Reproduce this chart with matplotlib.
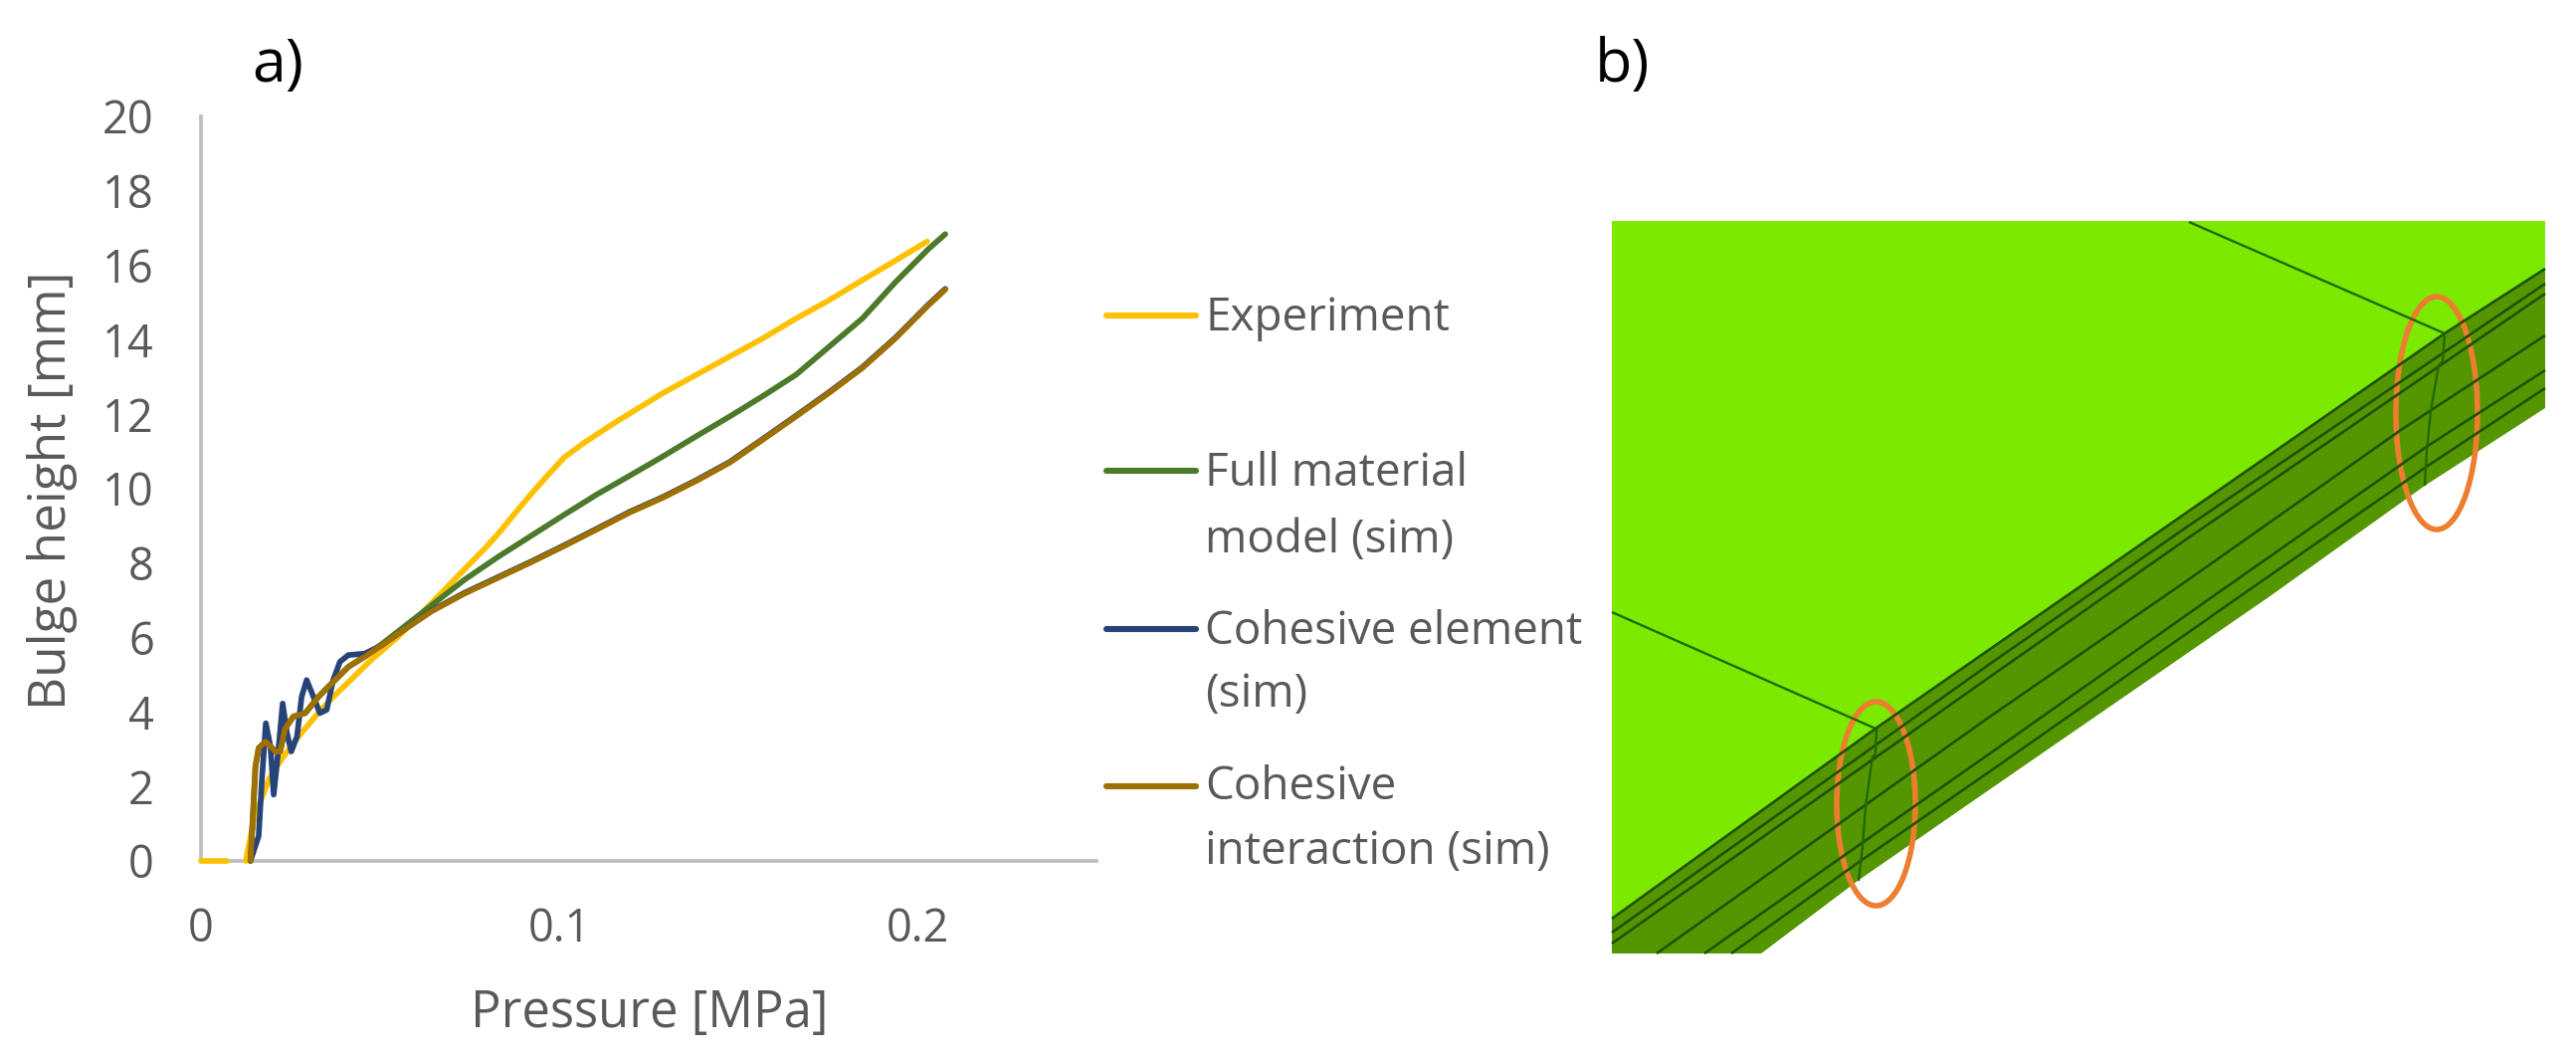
import matplotlib
matplotlib.use("Agg")
import matplotlib.pyplot as plt
from matplotlib.patches import Polygon, Ellipse

W, H = 2589, 1065
DPI = 100
plt.rcParams['font.family'] = ['Open Sans', 'DejaVu Sans']

# ---------- chart data ----------
exp_start_x = [0.0, 0.0072]
exp_start_y = [0.0, 0.0]
exp_x = [0.0125, 0.0150, 0.0190, 0.0225, 0.0272, 0.0319, 0.0364, 0.0419, 0.0475, 0.0550, 0.0642, 0.0795,
         0.0828, 0.0874, 0.0921, 0.0967, 0.1014, 0.1069, 0.1153, 0.1290, 0.1383, 0.1476, 0.1569, 0.1661,
         0.1753, 0.1846, 0.1939, 0.2027]
exp_y = [0.0, 1.2, 2.2, 2.73, 3.34, 3.88, 4.36, 4.87, 5.40, 6.02, 6.91, 8.42,
         8.77, 9.31, 9.85, 10.35, 10.84, 11.23, 11.76, 12.57, 13.06, 13.55, 14.04, 14.57,
         15.06, 15.60, 16.13, 16.64]

full_x = [0.0138, 0.0143, 0.0152, 0.0161, 0.0180, 0.0208, 0.0221, 0.0235, 0.0258, 0.0291, 0.0328, 0.0365,
          0.0411, 0.0457, 0.0504, 0.0596, 0.0735, 0.0828, 0.0921, 0.1014, 0.1106, 0.1197, 0.1290, 0.1383,
          0.1476, 0.1569, 0.1661, 0.1753, 0.1846, 0.1939, 0.2031, 0.2078]
full_y = [0.0, 0.85, 2.54, 3.03, 3.21, 2.94, 2.94, 3.56, 3.88, 3.97, 4.41, 4.77,
          5.21, 5.50, 5.82, 6.51, 7.55, 8.16, 8.73, 9.30, 9.85, 10.35, 10.87, 11.41,
          11.94, 12.49, 13.06, 13.81, 14.57, 15.55, 16.44, 16.84]

elem_x = [0.0138, 0.0161, 0.0170, 0.0181, 0.0194, 0.0203, 0.0217, 0.0228, 0.0240, 0.0252, 0.0268, 0.0281,
          0.0295, 0.0314, 0.0332, 0.0351, 0.0369, 0.0388, 0.0411, 0.0457, 0.0504, 0.0550, 0.0643, 0.0735,
          0.0828, 0.0921, 0.1014, 0.1106, 0.1197, 0.1290, 0.1383, 0.1476, 0.1569, 0.1661, 0.1753, 0.1846,
          0.1939, 0.2031, 0.2078]
elem_y = [0.0, 0.67, 2.18, 3.70, 3.07, 1.78, 3.07, 4.23, 3.43, 2.94, 3.34, 4.41,
          4.86, 4.41, 3.97, 4.06, 4.86, 5.35, 5.53, 5.57, 5.79, 6.10, 6.72, 7.20,
          7.62, 8.04, 8.48, 8.93, 9.38, 9.78, 10.23, 10.72, 11.34, 11.96, 12.59, 13.26,
          14.06, 14.95, 15.37]

inter_x = [0.0138, 0.0143, 0.0152, 0.0161, 0.0180, 0.0208, 0.0221, 0.0235, 0.0258, 0.0291, 0.0328, 0.0365,
           0.0411, 0.0457, 0.0504, 0.0550, 0.0643, 0.0735, 0.0828, 0.0921, 0.1014, 0.1106, 0.1197, 0.1290,
           0.1383, 0.1476, 0.1569, 0.1661, 0.1753, 0.1846, 0.1939, 0.2031, 0.2078]
inter_y = [0.0, 0.85, 2.54, 3.03, 3.21, 2.94, 2.94, 3.56, 3.88, 3.97, 4.41, 4.77,
           5.21, 5.48, 5.79, 6.10, 6.70, 7.18, 7.60, 8.02, 8.46, 8.91, 9.36, 9.76,
           10.21, 10.70, 11.32, 11.94, 12.57, 13.24, 14.04, 14.93, 15.35]

x_ticks = [0, 0.1, 0.2]
x_tick_labels = ['0', '0.1', '0.2']
y_ticks = [0, 2, 4, 6, 8, 10, 12, 14, 16, 18, 20]

c_exp, c_full, c_elem, c_inter = '#FFC000', '#4C7A2A', '#264478', '#9E7000'
TXT = '#595959'

legend_keys = [(317, c_exp), (473, c_full), (632, c_elem), (790, c_inter)]
legend_lines = [('Experiment', 332), ('Full material', 488), ('model (sim)', 555),
                ('Cohesive element', 647), ('(sim)', 710), ('Cohesive', 803), ('interaction (sim)', 868)]

# ---------- panel b geometry (image pixels) ----------
top_poly = [(1620, 222), (2558, 222), (2558, 270), (2457, 335), (1885, 732), (1620, 923)]
side_poly = [(1620, 923), (1885, 732), (2457, 335), (2558, 270), (2558, 410), (2437, 488), (2280, 600),
             (2000, 793), (1867, 885), (1770, 958), (1620, 958)]
side_lines = [
    [(1620, 923), (1885, 732), (2457, 335), (2558, 270)],
    [(1620, 937), (2000, 667), (2200, 528), (2558, 285)],
    [(1620, 948), (2000, 680), (2200, 540), (2558, 295)],
    [(1665, 958), (1852, 825), (2000, 720), (2200, 582), (2413, 432), (2558, 337)],
    [(1713, 958), (1867, 850), (2000, 757), (2223, 600), (2440, 448), (2558, 372)],
    [(1740, 958), (1867, 867), (2000, 775), (2250, 600), (2440, 468), (2558, 390)],
]
thin_lines = [
    [(1620, 615), (1885, 732)],
    [(2200, 223), (2457, 335)],
    [(1886, 732), (1885, 758), (1882, 760), (1875, 810), (1872, 850), (1868, 885)],
    [(2457, 337), (2455, 363), (2451, 367), (2443, 413), (2439, 453), (2437, 488)],
]
ellipses = [(1885.5, 807.5, 79, 205), (2449, 415, 82, 234)]

# ---------- figure ----------
fig = plt.figure(figsize=(W / DPI, H / DPI), dpi=DPI, facecolor='white')

ov = fig.add_axes([0, 0, 1, 1], zorder=0)
ov.set_xlim(0, W)
ov.set_ylim(H, 0)
ov.axis('off')

ax = fig.add_axes([202 / W, 1 - 865 / H, (1102 - 202) / W, (865 - 117) / H], zorder=1)
ax.patch.set_alpha(0)
ax.set_xlim(0, 0.25)
ax.set_ylim(0, 20)
for s in ('top', 'right'):
    ax.spines[s].set_visible(False)
for s in ('left', 'bottom'):
    ax.spines[s].set_color('#BFBFBF')
    ax.spines[s].set_linewidth(2.7)
    ax.spines[s].set_zorder(1)
ax.set_xticks(x_ticks)
ax.set_xticklabels(x_tick_labels)
ax.set_yticks(y_ticks)
ax.tick_params(axis='both', length=0, labelsize=32.5, labelcolor=TXT)
ax.tick_params(axis='x', pad=33)
ax.tick_params(axis='y', pad=34)

lw = 4.1
style = dict(lw=lw, solid_capstyle='round', solid_joinstyle='round', clip_on=False)
ax.plot(exp_start_x, exp_start_y, color=c_exp, zorder=3, **style)
ax.plot(exp_x, exp_y, color=c_exp, zorder=3, **style)
ax.plot(full_x, full_y, color=c_full, zorder=4, **style)
ax.plot(elem_x, elem_y, color=c_elem, zorder=5, **style)
ax.plot(inter_x, inter_y, color=c_inter, zorder=6, **style)

fig.text(653 / W, 1 - 1032 / H, 'Pressure [MPa]', color=TXT, fontsize=36.5, ha='center', va='baseline')
fig.text(53 / W, 1 - 493 / H, 'Bulge height [mm]', color=TXT, fontsize=37, rotation=90,
         ha='center', va='center')

for y, col in legend_keys:
    ov.plot([1112, 1202], [y, y], color=col, lw=4.4, solid_capstyle='round')
for label, base in legend_lines:
    ov.text(1211, base, label, color=TXT, fontsize=33, ha='left', va='baseline')

ov.text(253, 82, 'a)', color='black', fontsize=44, ha='left', va='baseline')
ov.text(1603, 82, 'b)', color='black', fontsize=44, ha='left', va='baseline')

# panel b
ov.add_patch(Polygon(top_poly, closed=True, facecolor='#7BE900', edgecolor='none'))
ov.add_patch(Polygon(side_poly, closed=True, facecolor='#549600', edgecolor='none'))
for pts in side_lines:
    ov.plot(*zip(*pts), color='#1F5200', lw=1.9, solid_capstyle='butt')
for pts in thin_lines:
    ov.plot(*zip(*pts), color='#1F6A00', lw=1.7, solid_capstyle='butt')
for cx, cy, w, h in ellipses:
    ov.add_patch(Ellipse((cx, cy), w, h, facecolor='none', edgecolor='#ED7D31', lw=4))

fig.savefig('out.png', dpi=DPI, facecolor='white')
